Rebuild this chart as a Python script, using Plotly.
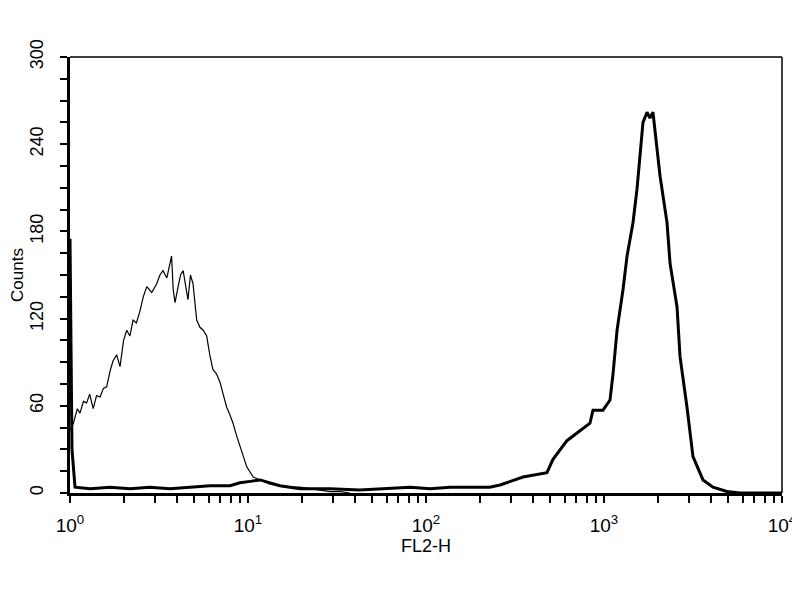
import plotly.graph_objects as go

# Control (thin) histogram: FL2-H channel value, counts
ctrl_x = [1.00, 1.045, 1.10, 1.138, 1.19, 1.24, 1.29, 1.35, 1.41, 1.476, 1.54, 1.607, 1.68, 1.746, 1.83,
          1.91, 2.00, 2.084, 2.17, 2.26, 2.36, 2.47, 2.58, 2.70, 2.88, 3.07, 3.20, 3.33, 3.50, 3.72,
          3.80, 3.89, 4.05, 4.18, 4.32, 4.46, 4.60, 4.75, 4.91, 5.15, 5.37, 5.60, 5.86, 6.10, 6.35,
          6.65, 6.97, 7.25, 7.59, 7.90, 8.24, 8.60, 9.02, 9.40, 9.84, 10.7, 11.7, 13.3, 15.0, 17.2,
          19.5, 22.3, 25.5, 28.9, 33.0, 37.4]
ctrl_y = [43, 48, 58, 55, 63, 62, 68, 58, 67, 66, 72, 73, 84, 91, 95,
          87, 105, 112, 108, 119, 117, 125, 135, 142, 138, 144, 150, 153, 148, 163,
          140, 131, 142, 150, 153, 141, 133, 150, 144, 119, 114, 112, 108, 95, 85,
          82, 76, 68, 59, 54, 48, 40, 32, 25, 18, 11, 9, 6, 5, 4,
          4, 3, 2, 1, 1, 0]

# Stained (thick) histogram
stain_x = [1.00, 1.026, 1.067, 1.3, 1.68, 2.17, 2.81, 3.64, 4.72, 6.12, 7.93, 9.0, 10.3, 11.7,
           13.3, 15.1, 19.6, 28.9, 42.4, 62.6, 81.5, 105.6, 136.7, 177, 228, 260.6, 350.6, 478,
           516, 619, 733, 834, 867, 987, 1081, 1124, 1184, 1279, 1347, 1455, 1532, 1593, 1656,
           1745, 1812, 1884, 1936, 2065, 2260, 2350, 2572, 2673, 2926, 3162, 3598, 4095, 4909,
           5808, 10000]
stain_y = [175, 30, 4, 3, 4, 3, 4, 3, 4, 5, 5, 7, 8, 9,
           7, 5, 3, 3, 2, 3, 4, 3, 4, 4, 4, 5.5, 11, 14,
           23, 36, 43, 48, 57, 57, 64, 82, 112, 140, 163, 186, 209, 231, 255,
           262, 258, 262, 250, 218, 186, 158, 128, 94, 59, 25, 9, 4, 1,
           0, 0]

x_major = [1, 10, 100, 1000, 10000]
x_major_text = ["10<sup>0</sup>", "10<sup>1</sup>", "10<sup>2</sup>", "10<sup>3</sup>", "10<sup>4</sup>"]
y_major = [0, 60, 120, 180, 240, 300]

x_ticks = []
x_text = []
for d in [1, 10, 100, 1000]:
    for m in range(1, 10):
        x_ticks.append(d * m)
        x_text.append(x_major_text[x_major.index(d)] if m == 1 else "")
x_ticks.append(10000)
x_text.append(x_major_text[-1])

y_ticks = list(range(0, 301, 15))
y_text = [str(v) if v in y_major else "" for v in y_ticks]

fig = go.Figure()
fig.add_trace(go.Scatter(x=ctrl_x, y=ctrl_y, mode="lines",
                         line=dict(color="black", width=1.2), showlegend=False))
fig.add_trace(go.Scatter(x=stain_x, y=stain_y, mode="lines",
                         line=dict(color="black", width=3), showlegend=False))

font = dict(family="Liberation Sans, Arial, sans-serif", color="black")

fig.update_layout(
    width=792, height=584,
    margin=dict(l=62, r=18, t=49, b=99, autoexpand=False),
    paper_bgcolor="white", plot_bgcolor="white",
    font=font,
    xaxis=dict(type="log", range=[0, 4], tickvals=x_ticks, ticktext=x_text, automargin=False,
               ticks="outside", ticklen=7, tickwidth=2, tickcolor="black",
               showline=True, linewidth=3, linecolor="black", showgrid=False, zeroline=False,
               tickfont=dict(size=19, **font), ticklabelstandoff=6,
               title=dict(text="FL2-H", font=dict(size=18, **font), standoff=2)),
    yaxis=dict(range=[0, 300], tickvals=y_ticks, ticktext=y_text, tickangle=-90, automargin=False,
               ticks="outside", ticklen=7, tickwidth=2, tickcolor="black",
               showline=True, linewidth=3, linecolor="black", showgrid=False, zeroline=False,
               tickfont=dict(size=18, **font), ticklabelstandoff=10,
               title=dict(text="Counts", font=dict(size=17, **font), standoff=4)),
)
fig.add_shape(type="line", xref="paper", yref="paper", x0=0, x1=1, y0=1, y1=1,
              line=dict(color="black", width=1.5))
fig.add_shape(type="line", xref="paper", yref="paper", x0=1, x1=1, y0=0, y1=1,
              line=dict(color="black", width=1.5))

fig.write_html("out.html")
